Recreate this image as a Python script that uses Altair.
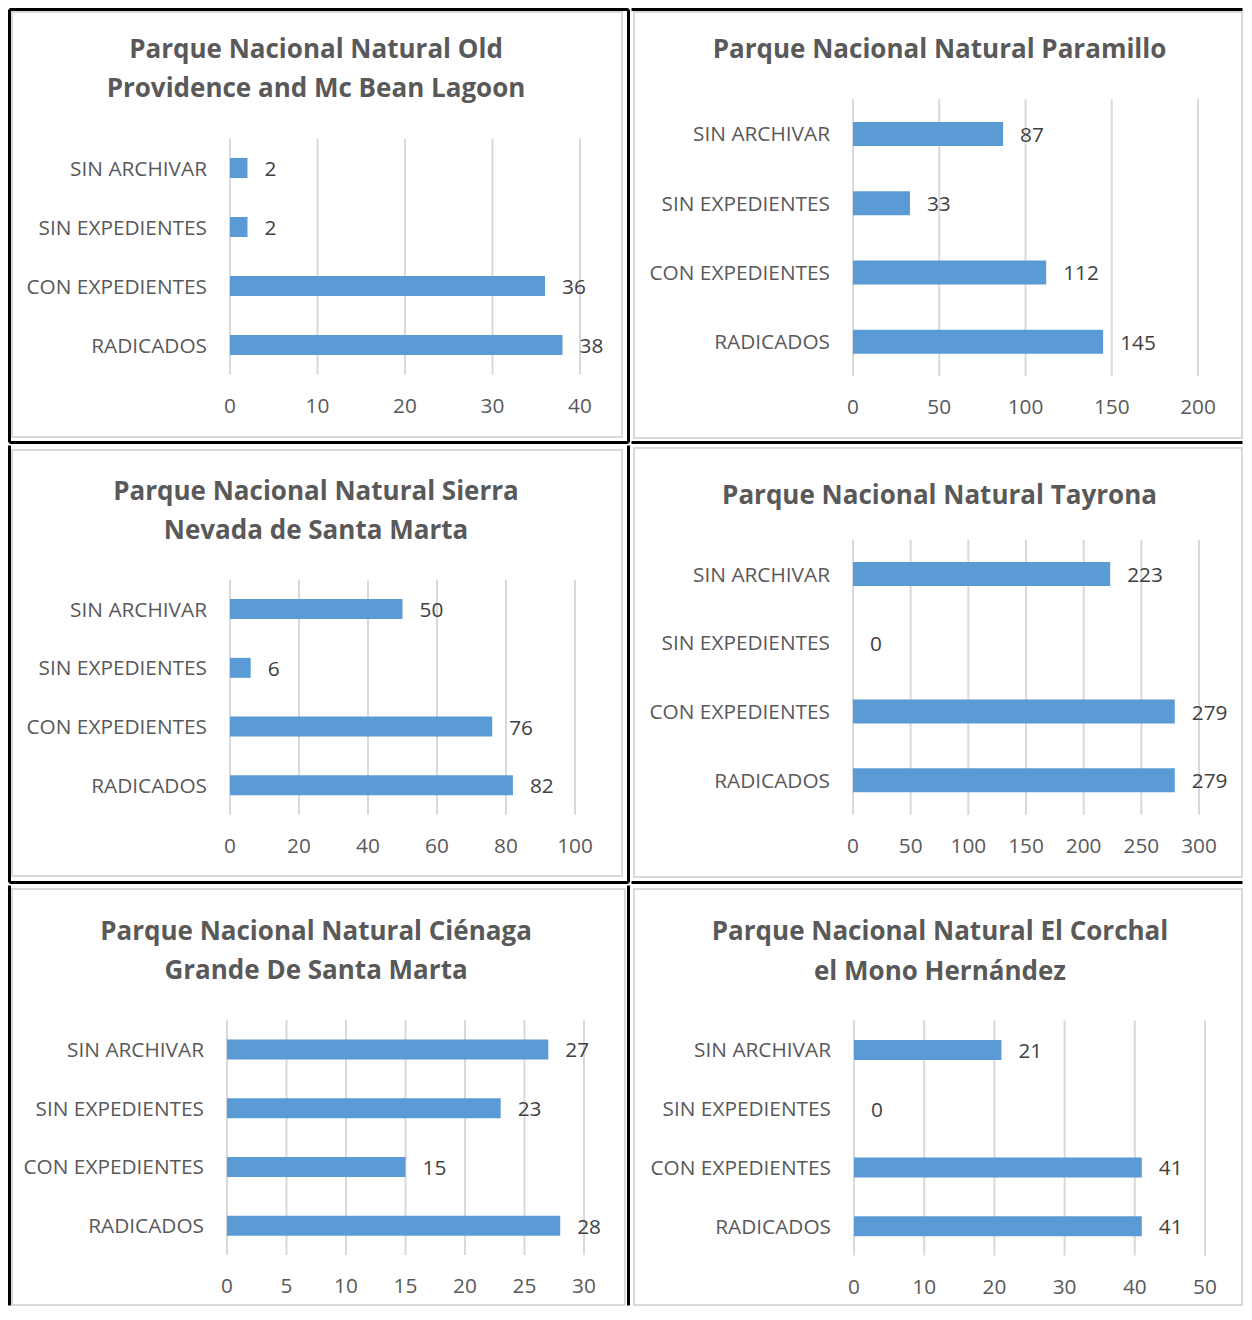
import altair as alt
import pandas as pd

# ---------------- data ----------------
categories = ["SIN ARCHIVAR", "SIN EXPEDIENTES", "CON EXPEDIENTES", "RADICADOS"]

titles = [
    ["Parque Nacional Natural Old", "Providence and Mc Bean Lagoon"],
    ["Parque Nacional Natural Paramillo"],
    ["Parque Nacional Natural Sierra", "Nevada de Santa Marta"],
    ["Parque Nacional Natural Tayrona"],
    ["Parque Nacional Natural Ciénaga", "Grande De Santa Marta"],
    ["Parque Nacional Natural El Corchal", "el Mono Hernández"],
]

values_old_providence = [2, 2, 36, 38]
values_paramillo = [87, 33, 112, 145]
values_sierra_nevada = [50, 6, 76, 82]
values_tayrona = [223, 0, 279, 279]
values_cienaga = [27, 23, 15, 28]
values_corchal = [21, 0, 41, 41]

ticks_old_providence = [0, 10, 20, 30, 40]
ticks_paramillo = [0, 50, 100, 150, 200]
ticks_sierra_nevada = [0, 20, 40, 60, 80, 100]
ticks_tayrona = [0, 50, 100, 150, 200, 250, 300]
ticks_cienaga = [0, 5, 10, 15, 20, 25, 30]
ticks_corchal = [0, 10, 20, 30, 40, 50]

all_values = [values_old_providence, values_paramillo, values_sierra_nevada,
              values_tayrona, values_cienaga, values_corchal]
all_ticks = [ticks_old_providence, ticks_paramillo, ticks_sierra_nevada,
             ticks_tayrona, ticks_cienaga, ticks_corchal]

# ---------------- layout (page pixels) ----------------
BOTTOM = 1307
RIGHT = 1244
layout = [
    dict(cell=(8, 8, 630, 444), plot=(230, 138.5, 350, 236), tcx=316, tys=[48, 87],
         frame=(12, 12, 622, 437), lines=["left", "top", "right", "bottom"]),
    dict(cell=(630, 8, RIGHT, 444), plot=(853, 99.3, 345, 277), tcx=939.5, tys=[48],
         frame=(634, 12, RIGHT - 2, 438), lines=["top", "bottom"]),
    dict(cell=(8, 444, 630, 884), plot=(230, 579.7, 345, 235), tcx=316, tys=[490, 529],
         frame=(12, 450, 622, 876), lines=["left", "right", "bottom"]),
    dict(cell=(630, 444, RIGHT, 884), plot=(853, 539.7, 346, 275), tcx=939.5, tys=[494],
         frame=(634, 448, RIGHT - 2, 877), lines=["bottom"]),
    dict(cell=(8, 884, 630, BOTTOM), plot=(227, 1020, 357, 235), tcx=316, tys=[930, 969],
         frame=(12, 889, 625, BOTTOM - 2), lines=["left", "right"]),
    dict(cell=(630, 884, RIGHT, BOTTOM), plot=(854, 1020.5, 351, 235), tcx=940, tys=[930, 970],
         frame=(634, 889, RIGHT - 2, BOTTOM - 2), lines=[]),
]

BAR = "#5B9BD5"
GRID = "#D9D9D9"
TXT = "#595959"
FONT = "Open Sans"
LABEL_SIZE = 20.8
TITLE_SIZE = 26
LW = 3  # black table line width


def make_panel(i):
    L = layout[i]
    cx0, cy0, cx1, cy1 = L["cell"]
    px, py, pw, ph = L["plot"]
    vals = all_values[i]
    ticks = all_ticks[i]
    step = ph / 4.0
    bar_th = 20 if step < 62 else 24
    pin = 1 - bar_th / step

    df = pd.DataFrame({"cat": categories, "value": vals})
    tdf = pd.DataFrame({"tick": ticks})
    one = alt.Data(values=[{"k": 0}])

    # local coordinates inside the cell-sized view
    def rx(v):
        return v - cx0

    def ry(v):
        return v - cy0

    xs = alt.Scale(domain=[0, ticks[-1]], nice=False, zero=True,
                   range=[rx(px), rx(px + pw)])
    ys = alt.Scale(domain=categories, paddingInner=pin, paddingOuter=pin / 2,
                   range=[ry(py), ry(py + ph)])

    fx0, fy0, fx1, fy1 = L["frame"]
    frame = alt.Chart(one).mark_rect(filled=False, stroke=GRID, strokeWidth=2).encode(
        x=alt.value(rx(fx0)), x2=alt.value(rx(fx1)),
        y=alt.value(ry(fy0)), y2=alt.value(ry(fy1)))

    layers = [frame]
    h = LW / 2.0
    for side in L["lines"]:
        if side == "left":
            enc = dict(x=alt.value(rx(cx0 + h)), x2=alt.value(rx(cx0 + h)),
                       y=alt.value(ry(cy0 + h)), y2=alt.value(ry(cy1 - h)))
        elif side == "right":
            enc = dict(x=alt.value(rx(cx1 - h)), x2=alt.value(rx(cx1 - h)),
                       y=alt.value(ry(cy0 + h)), y2=alt.value(ry(cy1 - h)))
        elif side == "top":
            enc = dict(x=alt.value(rx(cx0 + h)), x2=alt.value(rx(cx1 - h)),
                       y=alt.value(ry(cy0 + h)), y2=alt.value(ry(cy0 + h)))
        else:
            enc = dict(x=alt.value(rx(cx0 + h)), x2=alt.value(rx(cx1 - h)),
                       y=alt.value(ry(cy1 - h)), y2=alt.value(ry(cy1 - h)))
        layers.append(alt.Chart(one).mark_rule(color="black", strokeWidth=LW).encode(**enc))

    # vertical gridlines at the tick values
    grid = alt.Chart(tdf).mark_rule(color=GRID, strokeWidth=2).encode(
        x=alt.X("tick:Q", scale=xs, axis=None),
        y=alt.value(ry(py)), y2=alt.value(ry(py + ph)))
    # x tick labels
    xlab = alt.Chart(tdf).mark_text(align="center", baseline="middle", font=FONT,
                                    fontSize=LABEL_SIZE, color=TXT).encode(
        x=alt.X("tick:Q", scale=xs, axis=None),
        y=alt.value(ry(py + ph + 32)), text="tick:Q")
    bars = alt.Chart(df).mark_bar(color=BAR).encode(
        x=alt.X("value:Q", scale=xs, axis=None),
        y=alt.Y("cat:N", sort=categories, scale=ys, axis=None))
    # category labels
    ylab = alt.Chart(df).mark_text(align="right", baseline="middle", dy=1.5, font=FONT,
                                   fontSize=LABEL_SIZE, color=TXT).encode(
        x=alt.value(rx(px - 23)),
        y=alt.Y("cat:N", sort=categories, scale=ys, axis=None), text="cat:N")
    # value labels
    vlab = alt.Chart(df).mark_text(align="left", baseline="middle", dx=17, dy=2,
                                   font=FONT, fontSize=LABEL_SIZE, color="#404040").encode(
        x=alt.X("value:Q", scale=xs, axis=None),
        y=alt.Y("cat:N", sort=categories, scale=ys, axis=None), text="value:Q")
    layers += [grid, xlab, bars, ylab, vlab]

    for j, line in enumerate(titles[i]):
        layers.append(alt.Chart(one).mark_text(
            align="center", baseline="middle", dy=2, font=FONT, fontSize=TITLE_SIZE,
            fontWeight="bold", color=TXT).encode(
            x=alt.value(rx(L["tcx"])), y=alt.value(ry(L["tys"][j])),
            text=alt.value(line)))

    return alt.layer(*layers).properties(width=cx1 - cx0, height=cy1 - cy0)


panels = [make_panel(i) for i in range(6)]

chart = alt.concat(*panels, columns=2, spacing=0).properties(
    padding=0, background="white"
).configure_view(strokeWidth=0).configure_concat(spacing=0)

chart.save("out.html", embed_options={"renderer": "svg", "actions": False})
